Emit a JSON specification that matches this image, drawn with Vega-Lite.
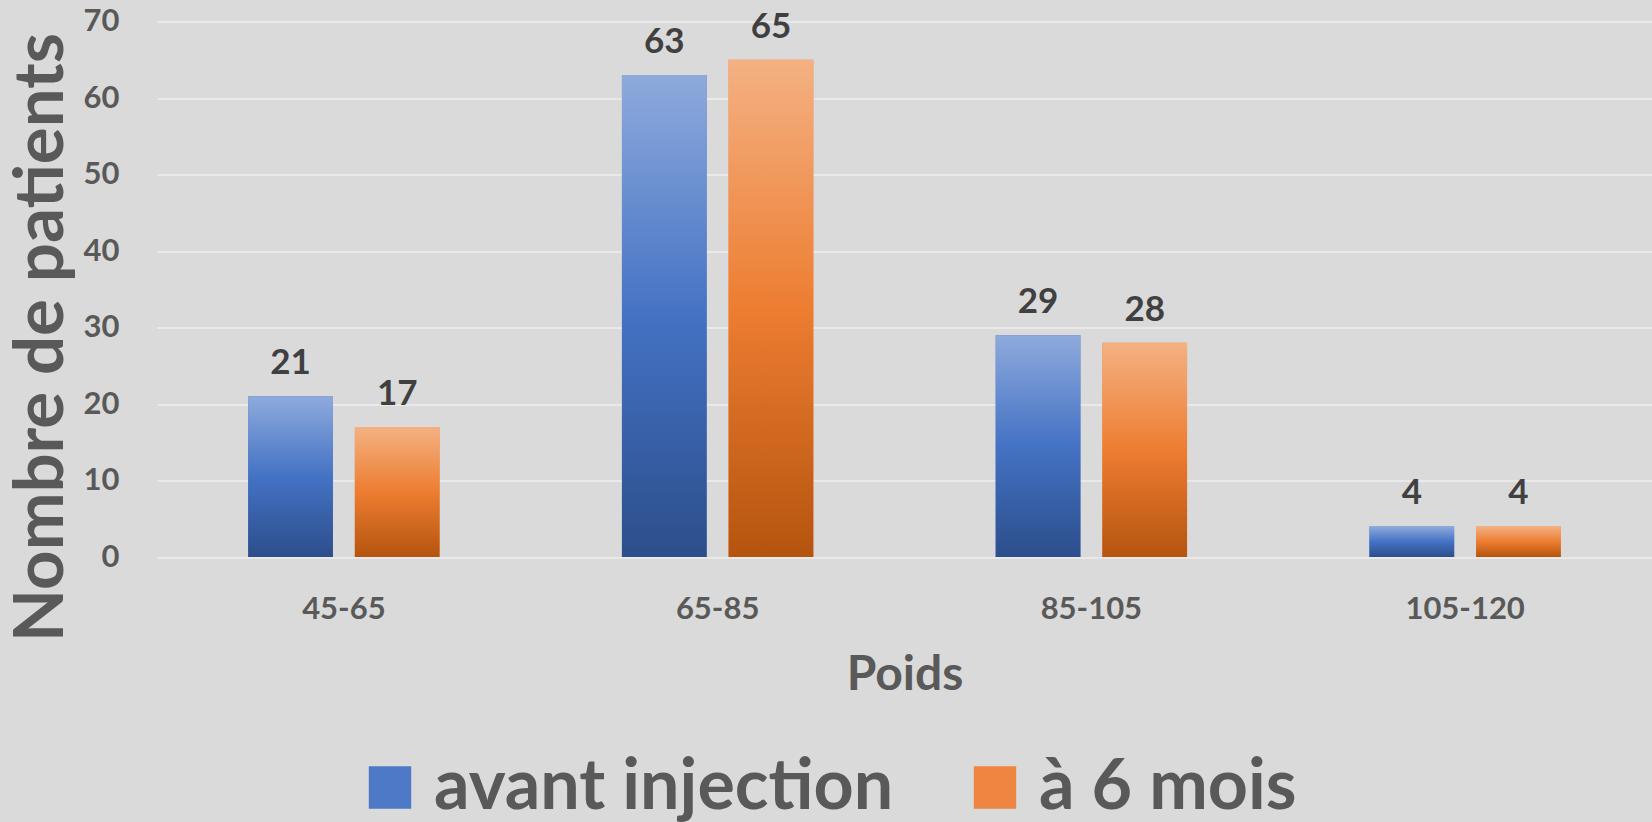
{
  "$schema": "https://vega.github.io/schema/vega-lite/v6.json",
  "autosize": "none",
  "width": 1495,
  "height": 535.5,
  "padding": {"left": 157, "top": 21.5, "right": 0, "bottom": 265},
  "background": "#dadada",
  "config": {
    "font": "Lato",
    "view": {"stroke": null},
    "axis": {"labelFont": "Lato", "titleFont": "Lato", "labelFontWeight": "bold", "titleFontWeight": "bold", "labelColor": "#595959", "titleColor": "#595959"}
  },
  "data": {
    "values": [
      {"poids": "45-65", "serie": "avant injection", "n": 21},
      {"poids": "45-65", "serie": "à 6 mois", "n": 17},
      {"poids": "65-85", "serie": "avant injection", "n": 63},
      {"poids": "65-85", "serie": "à 6 mois", "n": 65},
      {"poids": "85-105", "serie": "avant injection", "n": 29},
      {"poids": "85-105", "serie": "à 6 mois", "n": 28},
      {"poids": "105-120", "serie": "avant injection", "n": 4},
      {"poids": "105-120", "serie": "à 6 mois", "n": 4}
    ]
  },
  "encoding": {
    "x": {
      "field": "poids", "type": "nominal", "sort": null,
      "scale": {"paddingInner": 0, "paddingOuter": 0},
      "axis": {"title": "Poids", "labelAngle": 0, "labelFontSize": 31, "labelBaseline": "alphabetic", "labelPadding": 61, "ticks": false, "domain": false, "grid": false, "titleFontSize": 48, "titleBaseline": "alphabetic", "titleY": 132}
    },
    "xOffset": {"field": "serie", "type": "nominal", "scale": {"domain": ["avant injection", "à 6 mois"], "paddingInner": 0.2056, "paddingOuter": 0.855}},
    "y": {
      "field": "n", "type": "quantitative",
      "scale": {"domain": [0, 70]},
      "axis": {"title": "Nombre de patients", "values": [0, 10, 20, 30, 40, 50, 60, 70], "labelFontSize": 31, "labelPadding": 38, "ticks": false, "domain": false, "gridColor": "#e9e9e9", "gridWidth": 2, "titleFontSize": 69, "titleAngle": -90, "titleX": -95, "titleY": 315.5, "titleAlign": "center", "titleBaseline": "alphabetic"}
    }
  },
  "layer": [
    {
      "mark": {"type": "bar"},
      "encoding": {
        "color": {
          "field": "serie", "type": "nominal",
          "scale": {"domain": ["avant injection", "à 6 mois"], "range": ["#4d79c7", "#ee8540"]},
          "legend": {
            "title": null, "orient": "none", "legendX": 198, "legendY": 731, "direction": "horizontal", "symbolType": "square", "symbolSize": 1800, "symbolStrokeWidth": 0, "symbolOpacity": 1, "labelFontSize": 70, "labelFont": "Lato", "labelFontWeight": "bold", "labelColor": "#595959", "labelLimit": 1000, "labelOffset": 9, "columnPadding": 66, "padding": 0,
            "encode": {"symbols": {"update": {"fill": {"signal": "datum.value === 'avant injection' ? {gradient: 'linear', x1: 0, y1: 0, x2: 0, y2: 1, stops: [{offset: 0, color: '#8eaadc'}, {offset: 0.5, color: '#4472c4'}, {offset: 1, color: '#2c4e8b'}]} : {gradient: 'linear', x1: 0, y1: 0, x2: 0, y2: 1, stops: [{offset: 0, color: '#f4b183'}, {offset: 0.5, color: '#ed7d31'}, {offset: 1, color: '#b5540f'}]}"}}}}
          }
        }
      }
    },
    {
      "transform": [{"filter": "datum.serie === 'avant injection'"}],
      "mark": {"type": "bar", "fill": {"gradient": "linear", "x1": 0, "y1": 0, "x2": 0, "y2": 1, "stops": [{"offset": 0, "color": "#8eaadc"}, {"offset": 0.5, "color": "#4472c4"}, {"offset": 1, "color": "#2c4e8b"}]}}
    },
    {
      "transform": [{"filter": "datum.serie === 'à 6 mois'"}],
      "mark": {"type": "bar", "fill": {"gradient": "linear", "x1": 0, "y1": 0, "x2": 0, "y2": 1, "stops": [{"offset": 0, "color": "#f4b183"}, {"offset": 0.5, "color": "#ed7d31"}, {"offset": 1, "color": "#b5540f"}]}}
    },
    {
      "mark": {"type": "text", "baseline": "alphabetic", "dy": -22, "fontSize": 35, "fontWeight": "bold", "font": "Lato", "color": "#404040"},
      "encoding": {"text": {"field": "n", "type": "quantitative"}}
    }
  ]
}
